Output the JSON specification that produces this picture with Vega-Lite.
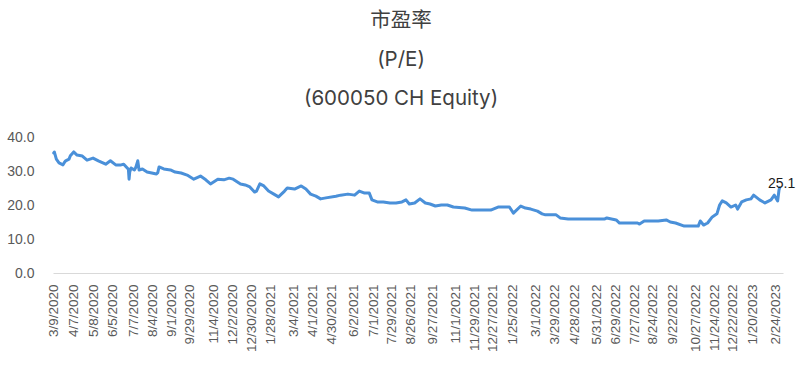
{
  "$schema": "https://vega.github.io/schema/vega-lite/v6.json",
  "width": 730,
  "height": 136,
  "padding": {"left": 6, "top": 10, "right": 17, "bottom": 0},
  "background": "white",
  "title": {
    "text": ["市盈率", "(P/E)", "(600050 CH Equity)"],
    "font": "Inter, Noto Sans CJK SC",
    "fontSize": 20.5,
    "fontWeight": "normal",
    "color": "#404040",
    "lineHeight": 39,
    "anchor": "middle",
    "frame": "bounds",
    "offset": 21
  },
  "config": {"view": {"stroke": null}},
  "data": {
    "values": [
      {"d": "2020-03-09", "v": 35.3}, {"d": "2020-03-10", "v": 35.6}, {"d": "2020-03-13", "v": 33.5},
      {"d": "2020-03-17", "v": 32.4}, {"d": "2020-03-23", "v": 31.8}, {"d": "2020-03-25", "v": 32.5},
      {"d": "2020-03-27", "v": 33.0}, {"d": "2020-04-01", "v": 33.5}, {"d": "2020-04-03", "v": 34.5},
      {"d": "2020-04-08", "v": 35.6}, {"d": "2020-04-13", "v": 34.7}, {"d": "2020-04-21", "v": 34.4},
      {"d": "2020-04-28", "v": 33.2}, {"d": "2020-05-07", "v": 33.8}, {"d": "2020-05-15", "v": 33.0},
      {"d": "2020-05-26", "v": 32.0}, {"d": "2020-06-02", "v": 33.0}, {"d": "2020-06-10", "v": 31.8},
      {"d": "2020-06-18", "v": 31.8}, {"d": "2020-06-22", "v": 32.0}, {"d": "2020-06-29", "v": 30.5},
      {"d": "2020-06-30", "v": 27.6}, {"d": "2020-07-01", "v": 29.7}, {"d": "2020-07-03", "v": 30.9},
      {"d": "2020-07-08", "v": 30.3}, {"d": "2020-07-10", "v": 31.0}, {"d": "2020-07-13", "v": 33.0},
      {"d": "2020-07-15", "v": 30.3}, {"d": "2020-07-20", "v": 30.6}, {"d": "2020-07-27", "v": 29.7},
      {"d": "2020-08-03", "v": 29.4}, {"d": "2020-08-10", "v": 29.1}, {"d": "2020-08-12", "v": 29.5},
      {"d": "2020-08-14", "v": 31.2}, {"d": "2020-08-21", "v": 30.6}, {"d": "2020-08-31", "v": 30.3},
      {"d": "2020-09-07", "v": 29.7}, {"d": "2020-09-16", "v": 29.4}, {"d": "2020-09-25", "v": 28.8},
      {"d": "2020-10-05", "v": 27.6}, {"d": "2020-10-15", "v": 28.5}, {"d": "2020-10-23", "v": 27.4},
      {"d": "2020-10-30", "v": 26.2}, {"d": "2020-11-10", "v": 27.6}, {"d": "2020-11-19", "v": 27.4},
      {"d": "2020-11-27", "v": 27.9}, {"d": "2020-12-03", "v": 27.6}, {"d": "2020-12-14", "v": 26.2},
      {"d": "2020-12-21", "v": 25.9}, {"d": "2020-12-28", "v": 25.3}, {"d": "2021-01-04", "v": 23.8},
      {"d": "2021-01-07", "v": 24.1}, {"d": "2021-01-12", "v": 26.2}, {"d": "2021-01-18", "v": 25.6},
      {"d": "2021-01-25", "v": 24.1}, {"d": "2021-02-02", "v": 23.2}, {"d": "2021-02-09", "v": 22.4},
      {"d": "2021-02-18", "v": 24.1}, {"d": "2021-02-22", "v": 25.0}, {"d": "2021-03-05", "v": 24.7},
      {"d": "2021-03-15", "v": 25.6}, {"d": "2021-03-22", "v": 24.7}, {"d": "2021-03-29", "v": 23.2},
      {"d": "2021-04-06", "v": 22.6}, {"d": "2021-04-13", "v": 21.8}, {"d": "2021-04-21", "v": 22.1},
      {"d": "2021-05-06", "v": 22.6}, {"d": "2021-05-13", "v": 22.9}, {"d": "2021-05-24", "v": 23.2},
      {"d": "2021-06-03", "v": 22.9}, {"d": "2021-06-10", "v": 24.1}, {"d": "2021-06-18", "v": 23.5},
      {"d": "2021-06-25", "v": 23.5}, {"d": "2021-06-29", "v": 21.5}, {"d": "2021-07-07", "v": 20.9},
      {"d": "2021-07-16", "v": 20.9}, {"d": "2021-07-26", "v": 20.6}, {"d": "2021-08-04", "v": 20.6},
      {"d": "2021-08-13", "v": 20.9}, {"d": "2021-08-19", "v": 21.5}, {"d": "2021-08-24", "v": 20.3},
      {"d": "2021-09-01", "v": 20.6}, {"d": "2021-09-09", "v": 21.8}, {"d": "2021-09-17", "v": 20.6},
      {"d": "2021-09-24", "v": 20.3}, {"d": "2021-10-02", "v": 19.7}, {"d": "2021-10-11", "v": 20.0},
      {"d": "2021-10-20", "v": 20.0}, {"d": "2021-10-29", "v": 19.4}, {"d": "2021-11-15", "v": 19.1},
      {"d": "2021-11-26", "v": 18.5}, {"d": "2021-12-13", "v": 18.5}, {"d": "2021-12-24", "v": 18.5},
      {"d": "2022-01-04", "v": 19.4}, {"d": "2022-01-12", "v": 19.4}, {"d": "2022-01-21", "v": 19.4},
      {"d": "2022-01-27", "v": 17.6}, {"d": "2022-02-07", "v": 19.7}, {"d": "2022-02-14", "v": 19.1},
      {"d": "2022-02-22", "v": 18.8}, {"d": "2022-03-04", "v": 18.2}, {"d": "2022-03-11", "v": 17.4},
      {"d": "2022-03-16", "v": 17.1}, {"d": "2022-03-25", "v": 17.1}, {"d": "2022-04-01", "v": 17.1},
      {"d": "2022-04-07", "v": 16.2}, {"d": "2022-04-19", "v": 15.9}, {"d": "2022-05-06", "v": 15.9},
      {"d": "2022-05-20", "v": 15.9}, {"d": "2022-06-13", "v": 15.9}, {"d": "2022-06-16", "v": 16.2},
      {"d": "2022-06-23", "v": 15.9}, {"d": "2022-06-30", "v": 15.6}, {"d": "2022-07-05", "v": 14.7},
      {"d": "2022-07-18", "v": 14.7}, {"d": "2022-08-01", "v": 14.7}, {"d": "2022-08-04", "v": 14.4},
      {"d": "2022-08-11", "v": 15.3}, {"d": "2022-08-22", "v": 15.3}, {"d": "2022-09-01", "v": 15.3},
      {"d": "2022-09-13", "v": 15.6}, {"d": "2022-09-19", "v": 15.0}, {"d": "2022-09-27", "v": 14.7},
      {"d": "2022-10-10", "v": 13.8}, {"d": "2022-10-20", "v": 13.8}, {"d": "2022-10-31", "v": 13.8},
      {"d": "2022-11-03", "v": 15.3}, {"d": "2022-11-08", "v": 14.1}, {"d": "2022-11-14", "v": 14.7},
      {"d": "2022-11-21", "v": 16.5}, {"d": "2022-11-28", "v": 17.4}, {"d": "2022-12-02", "v": 20.0},
      {"d": "2022-12-06", "v": 21.2}, {"d": "2022-12-12", "v": 20.6}, {"d": "2022-12-19", "v": 19.4},
      {"d": "2022-12-26", "v": 20.0}, {"d": "2022-12-29", "v": 18.8}, {"d": "2023-01-04", "v": 20.9},
      {"d": "2023-01-11", "v": 21.5}, {"d": "2023-01-18", "v": 21.8}, {"d": "2023-01-22", "v": 22.9},
      {"d": "2023-01-31", "v": 21.5}, {"d": "2023-02-08", "v": 20.6}, {"d": "2023-02-17", "v": 21.5},
      {"d": "2023-02-22", "v": 22.9}, {"d": "2023-02-27", "v": 21.2}, {"d": "2023-03-01", "v": 24.4},
      {"d": "2023-03-02", "v": 25.1}
    ]
  },
  "encoding": {
    "x": {
      "field": "d",
      "type": "temporal",
      "scale": {"type": "utc", "domain": [{"year": 2020, "month": 3, "date": 8, "utc": true}, {"year": 2023, "month": 3, "date": 7, "utc": true}]},
      "axis": {
        "title": null,
        "values": [
          {"year": 2020, "month": 3, "date": 9, "utc": true}, {"year": 2020, "month": 4, "date": 7, "utc": true},
          {"year": 2020, "month": 5, "date": 8, "utc": true}, {"year": 2020, "month": 6, "date": 5, "utc": true},
          {"year": 2020, "month": 7, "date": 7, "utc": true}, {"year": 2020, "month": 8, "date": 4, "utc": true},
          {"year": 2020, "month": 9, "date": 1, "utc": true}, {"year": 2020, "month": 9, "date": 29, "utc": true},
          {"year": 2020, "month": 11, "date": 4, "utc": true}, {"year": 2020, "month": 12, "date": 2, "utc": true},
          {"year": 2020, "month": 12, "date": 30, "utc": true}, {"year": 2021, "month": 1, "date": 28, "utc": true},
          {"year": 2021, "month": 3, "date": 4, "utc": true}, {"year": 2021, "month": 4, "date": 1, "utc": true},
          {"year": 2021, "month": 4, "date": 30, "utc": true}, {"year": 2021, "month": 6, "date": 2, "utc": true},
          {"year": 2021, "month": 7, "date": 1, "utc": true}, {"year": 2021, "month": 7, "date": 29, "utc": true},
          {"year": 2021, "month": 8, "date": 26, "utc": true}, {"year": 2021, "month": 9, "date": 27, "utc": true},
          {"year": 2021, "month": 11, "date": 1, "utc": true}, {"year": 2021, "month": 11, "date": 29, "utc": true},
          {"year": 2021, "month": 12, "date": 27, "utc": true}, {"year": 2022, "month": 1, "date": 25, "utc": true},
          {"year": 2022, "month": 3, "date": 1, "utc": true}, {"year": 2022, "month": 3, "date": 29, "utc": true},
          {"year": 2022, "month": 4, "date": 28, "utc": true}, {"year": 2022, "month": 5, "date": 31, "utc": true},
          {"year": 2022, "month": 6, "date": 29, "utc": true}, {"year": 2022, "month": 7, "date": 27, "utc": true},
          {"year": 2022, "month": 8, "date": 24, "utc": true}, {"year": 2022, "month": 9, "date": 22, "utc": true},
          {"year": 2022, "month": 10, "date": 27, "utc": true}, {"year": 2022, "month": 11, "date": 24, "utc": true},
          {"year": 2022, "month": 12, "date": 22, "utc": true}, {"year": 2023, "month": 1, "date": 20, "utc": true},
          {"year": 2023, "month": 2, "date": 24, "utc": true}
        ],
        "format": "%-m/%-d/%Y",
        "labelAngle": -90,
        "labelFont": "Liberation Sans",
        "labelFontSize": 13.5,
        "labelColor": "#595959",
        "labelPadding": 11,
        "labelOverlap": false,
        "labelFlush": false,
        "ticks": false,
        "tickSize": 0,
        "grid": false,
        "domainColor": "#D9D9D9",
        "domainWidth": 1
      }
    },
    "y": {
      "field": "v",
      "type": "quantitative",
      "scale": {"domain": [0, 40], "nice": false, "zero": true},
      "axis": {
        "title": null,
        "values": [0, 10, 20, 30, 40],
        "format": ".1f",
        "labelFont": "Liberation Sans",
        "labelFontSize": 14,
        "labelColor": "#595959",
        "labelPadding": 19,
        "ticks": false,
        "tickSize": 0,
        "domain": false,
        "grid": false
      }
    }
  },
  "layer": [
    {
      "mark": {"type": "line", "color": "#4A90D9", "strokeWidth": 3, "strokeJoin": "round", "strokeCap": "round"}
    },
    {
      "transform": [{"filter": "datum.v == 25.1"}],
      "mark": {"type": "text", "font": "Liberation Sans", "fontSize": 14, "color": "#1a1a1a", "align": "center", "baseline": "middle", "dx": 2, "dy": -4},
      "encoding": {"text": {"field": "v", "type": "quantitative", "format": ".1f"}}
    }
  ]
}
